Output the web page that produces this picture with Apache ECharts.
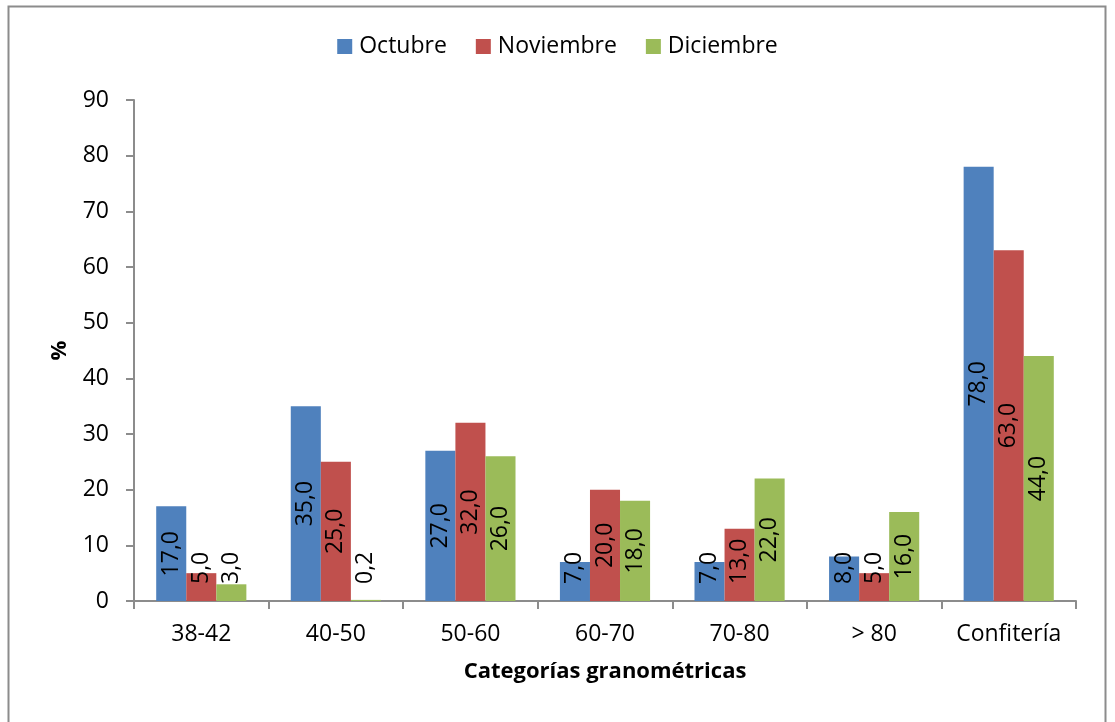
<!DOCTYPE html>
<html>
<head>
<meta charset="utf-8">
<script src="https://cdn.jsdelivr.net/npm/echarts@6/dist/echarts.min.js"></script>
<style>
html,body{margin:0;padding:0;background:#fff;}
#chart{width:1115px;height:722px;}
</style>
</head>
<body>
<div id="chart"></div>
<script>
var categories = ['38-42', '40-50', '50-60', '60-70', '70-80', '> 80', 'Confitería'];
var seriesNames = ['Octubre', 'Noviembre', 'Diciembre'];
var octubre = [17, 35, 27, 7, 7, 8, 78];
var noviembre = [5, 25, 32, 20, 13, 5, 63];
var diciembre = [3, 0.2, 26, 18, 22, 16, 44];
var colors = ['#4F81BD', '#C0504D', '#9BBB59'];
var yMin = 0, yMax = 90, yInterval = 10;
var xTitle = 'Categorías granométricas';
var yTitle = '%';

var FONT = 'Open Sans';
var FS = 23;

function fmt(v) { return v.toFixed(1).replace('.', ','); }

function labelLayout(p) {
  var r = p.rect, lr = p.labelRect;
  var bottom = r.y + r.height;
  var half = lr.height / 2;
  var cx = lr.x + lr.width / 2;
  var cy = lr.y + half;
  var maxCy = bottom - 17 - half;
  if (cy > maxCy) cy = maxCy;
  return { x: cx, y: cy, align: 'center', verticalAlign: 'middle' };
}

function makeSeries(name, data, color) {
  return {
    name: name,
    type: 'bar',
    data: data,
    barGap: '0%',
    barCategoryGap: '33%',
    itemStyle: { color: color },
    label: {
      show: true,
      position: 'inside',
      rotate: 90,
      color: '#000',
      fontFamily: FONT,
      fontSize: FS,
      formatter: function (p) { return fmt(p.value); }
    },
    labelLayout: labelLayout
  };
}

var chart = echarts.init(document.getElementById('chart'), null, { renderer: 'canvas' });
chart.setOption({
  animation: false,
  backgroundColor: '#fff',
  textStyle: { fontFamily: FONT },
  graphic: [{
    type: 'rect',
    shape: { x: 8.5, y: 6.5, width: 1097, height: 730 },
    style: { fill: 'none', stroke: '#8c8c8c', lineWidth: 2 },
    silent: true
  }],
  legend: {
    data: seriesNames,
    top: 30,
    left: 'center',
    itemWidth: 15,
    itemHeight: 15,
    itemGap: 29,
    icon: 'rect',
    textStyle: { fontFamily: FONT, fontSize: FS, color: '#000', padding: [0, 0, 0, 2] }
  },
  grid: { left: 134, right: 39, top: 100, bottom: 121, containLabel: false },
  xAxis: {
    type: 'category',
    data: categories,
    name: xTitle,
    nameLocation: 'middle',
    nameGap: 60,
    nameTextStyle: { fontFamily: FONT, fontSize: FS - 1, fontWeight: 'bold', color: '#000' },
    axisLine: { lineStyle: { color: '#8c8c8c', width: 2 } },
    axisTick: { show: true, alignWithLabel: false, length: 8, lineStyle: { color: '#8c8c8c', width: 2 } },
    axisLabel: { margin: 22, fontFamily: FONT, fontSize: FS, color: '#000', interval: 0 }
  },
  yAxis: {
    type: 'value',
    min: yMin,
    max: yMax,
    interval: yInterval,
    name: yTitle,
    nameLocation: 'middle',
    nameGap: 63,
    nameRotate: 90,
    nameTextStyle: { fontFamily: FONT, fontSize: FS - 1, fontWeight: 'bold', color: '#000' },
    splitLine: { show: false },
    axisLine: { show: true, lineStyle: { color: '#8c8c8c', width: 2 } },
    axisTick: { show: true, length: 8, lineStyle: { color: '#8c8c8c', width: 2 } },
    axisLabel: { margin: 25, fontFamily: FONT, fontSize: FS, color: '#000' }
  },
  series: [
    makeSeries(seriesNames[0], octubre, colors[0]),
    makeSeries(seriesNames[1], noviembre, colors[1]),
    makeSeries(seriesNames[2], diciembre, colors[2])
  ]
});
</script>
</body>
</html>
